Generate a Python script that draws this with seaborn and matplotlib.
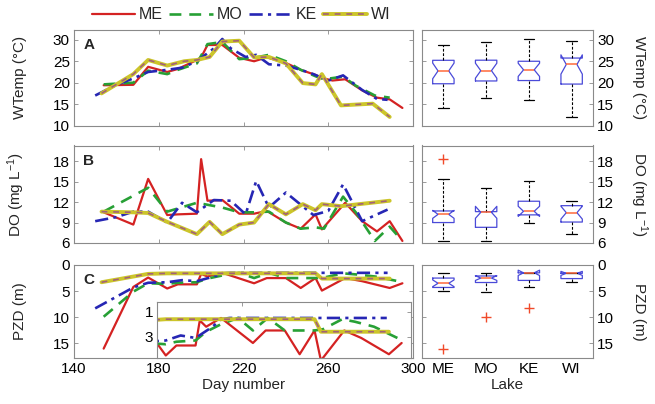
import matplotlib.pyplot as plt
from matplotlib.lines import Line2D
import numpy as np
import pandas as pd
import seaborn as sns

sns.set_theme(style="white")
plt.rcParams["font.family"] = ["Liberation Sans", "DejaVu Sans"]
plt.rcParams["mathtext.default"] = "regular"

nan = np.nan
lakes = ["ME", "MO", "KE", "WI"]

# sampling days and values
me_day = [154, 168, 175, 184, 189, 198, 200, 203, 210, 218, 225, 231, 240, 247, 254, 257, 262, 268, 276, 283, 289, 295]
me_wt = [19.4, 19.5, 23.7, 22.5, 23.2, 25.3, 25.9, 28.8, 28.8, 25.8, 25.0, 25.9, 24.6, 23.0, 21.8, 21.1, 20.5, 20.8, 18.2, 16.5, 16.1, 14.1]
me_do = [10.5, 8.7, 15.4, 10.1, 10.2, 10.3, 18.3, 12.2, 12.3, 10.3, 10.3, 10.7, 9.0, 8.1, 10.2, 8.0, nan, 11.9, 9.2, 7.7, 9.2, 6.3]
me_pzd = [16.0, 4.2, 2.4, 4.5, 3.7, 3.7, 1.7, 2.2, 1.5, nan, 3.5, 2.5, 2.5, 4.4, 2.5, 4.9, nan, 2.5, 3.1, nan, 4.4, 3.5]

mo_day = [154, 168, 175, 184, 189, 198, 203, 210, 218, 225, 232, 240, 247, 254, 258, 267, 273, 282, 289, 293]
mo_wt = [19.6, 20.0, 22.8, 22.0, 23.0, 24.5, 29.0, 29.5, 25.5, 25.8, 26.5, 25.0, 23.0, 21.5, 20.8, 21.4, 19.3, 17.0, 16.5, nan]
mo_do = [10.6, nan, 14.1, 10.6, nan, 11.9, nan, 11.2, 10.5, 10.5, 10.6, 9.0, 8.1, 8.3, 8.1, 12.8, 10.5, 6.3, 8.4, 7.0]
mo_pzd = [9.9, 5.1, 3.5, 3.6, 3.4, 3.3, 2.6, 2.0, 1.5, 2.5, 1.5, 2.5, 2.5, 2.5, 2.4, 1.6, 1.8, 2.2, nan, 3.1]

ke_day = [150, 160, 168, 175, 184, 191, 198, 206, 210, 214, 221, 226, 232, 240, 247, 253, 260, 267, 276, 283, 288]
ke_wt = [17.0, 19.5, 21.0, 22.5, 23.0, 23.5, 25.0, 28.0, 30.2, 28.0, 26.0, 26.5, 24.3, 24.0, 23.0, 22.0, 20.5, 21.7, 18.3, 16.2, 16.0]
ke_do = [9.2, 9.8, 10.6, 10.6, 9.0, 11.9, 10.5, 12.3, nan, 12.2, 10.2, 15.1, 11.2, 13.4, nan, 10.1, 10.7, 14.6, 9.2, nan, 10.9]
ke_pzd = [8.3, nan, 4.3, 3.4, 3.3, 2.9, 3.1, 2.2, 1.6, 1.5, 1.5, 1.5, 1.5, 1.5, 1.5, 1.5, 1.5, 1.5, 1.5, 1.5, 1.5]

wi_day = [153, 168, 175, 184, 192, 198, 204, 210, 218, 225, 232, 240, 248, 254, 257, 266, 281, 289]
wi_wt = [17.5, 22.0, 25.3, 24.0, 25.0, 25.3, 26.0, 29.6, 29.8, 25.9, 26.0, 24.5, 19.9, 19.6, 22.0, 14.7, 15.1, 12.0]
wi_do = [10.6, 10.5, 10.4, 9.1, nan, 7.3, 9.1, 7.3, 8.7, 9.0, 11.7, 10.2, 11.7, 10.8, 11.7, 11.4, nan, 12.2]
wi_pzd = [3.3, nan, 1.7, 1.6, 1.6, 1.6, 1.6, 1.6, 1.6, 1.6, 1.6, 1.6, 1.6, 1.6, 2.6, 2.6, 2.6, 2.6]

frames = []
for lake, d, wt, do, pzd in [
    ("ME", me_day, me_wt, me_do, me_pzd),
    ("MO", mo_day, mo_wt, mo_do, mo_pzd),
    ("KE", ke_day, ke_wt, ke_do, ke_pzd),
    ("WI", wi_day, wi_wt, wi_do, wi_pzd),
]:
    frames.append(pd.DataFrame({"lake": lake, "day": d, "WT": wt, "DO": do, "PZD": pzd}))
df = pd.concat(frames, ignore_index=True)

styles = {
    "ME": dict(color="#d42222", linewidth=1.6, linestyle="-"),
    "MO": dict(color="#27a035", linewidth=1.9, linestyle=(0, (4.5, 3))),
    "KE": dict(color="#2626b4", linewidth=1.9, linestyle=(0, (5, 2, 1.2, 2))),
    "WI": dict(color="#ccc52a", linewidth=2.8, linestyle="-"),
}
wi_top = dict(color="#a2607a", linewidth=1.2, linestyle=(0, (3.5, 3.5)))
box_blue = "#4a4ad8"
med_col = "#ff6a3a"
out_col = "#f04a2a"
frame_col = "#8a8a8a"
fs = 11


def draw_lines(ax, var):
    for lake in lakes:
        d = df[df["lake"] == lake].dropna(subset=[var])
        sns.lineplot(x=d["day"].to_numpy(), y=d[var].to_numpy(), ax=ax, sort=False,
                     estimator=None, legend=False, **styles[lake])
        if lake == "WI":
            sns.lineplot(x=d["day"].to_numpy(), y=d[var].to_numpy(), ax=ax, sort=False,
                         estimator=None, legend=False, **wi_top)


def draw_box(ax, var):
    sns.boxplot(data=df, x="lake", y=var, order=lakes, ax=ax, width=0.5, notch=True,
                fill=False, whis=3.0,
                boxprops=dict(color=box_blue, linewidth=0.9),
                medianprops=dict(color=med_col, linewidth=1.1),
                whiskerprops=dict(color="black", linewidth=0.8, linestyle=(0, (2.5, 1.5))),
                capprops=dict(color="black", linewidth=0.9),
                flierprops=dict(marker="+", markeredgecolor=out_col, markerfacecolor=out_col,
                                markersize=7, markeredgewidth=1.0))


def style_axes(ax):
    for s in ax.spines.values():
        s.set_color(frame_col)
        s.set_linewidth(0.8)
    ax.tick_params(direction="in", length=3, width=0.6, color=frame_col,
                   labelsize=fs, labelcolor="black", pad=3)


fig = plt.figure(figsize=(6.55, 4.04), dpi=100)
W, H = 655, 404


def box(x0, y0, x1, y1):
    return [x0 / W, 1 - y1 / H, (x1 - x0) / W, (y1 - y0) / H]


rows = [(30, 125.5), (145.5, 243), (265, 358)]
left_x = (74, 413)
right_x = (422, 593)

variables = ["WT", "DO", "PZD"]
ylims = [(10, 32.3), (6, 20.3), (17.8, 0)]
yticks = [[10, 15, 20, 25, 30], [6, 9, 12, 15, 18], [0, 5, 10, 15]]
ylabels = ["WTemp (\u00b0C)", "DO (mg L$^{-1}$)", "PZD (m)"]
panel_tags = ["A", "B", "C"]

for i, var in enumerate(variables):
    y0, y1 = rows[i]
    ax = fig.add_axes(box(left_x[0], y0, left_x[1], y1))
    draw_lines(ax, var)
    ax.set_xlim(140, 300)
    ax.set_ylim(*ylims[i])
    ax.set_yticks(yticks[i])
    ax.set_xticks([140, 180, 220, 260, 300])
    style_axes(ax)
    ax.tick_params(top=True, right=True, left=True, bottom=True)
    ax.set_ylabel(ylabels[i], fontsize=fs)
    ax.yaxis.set_label_coords(-0.138, 0.5)
    ax.set_xlabel("")
    if i < 2:
        ax.tick_params(labelbottom=False)
    else:
        ax.set_xlabel("Day number", fontsize=fs, labelpad=1)
    ax.text(0.027, 0.84, panel_tags[i], transform=ax.transAxes, fontsize=fs,
            fontweight="bold", va="center", ha="left")

    axr = fig.add_axes(box(right_x[0], y0, right_x[1], y1))
    draw_box(axr, var)
    axr.set_ylim(*ylims[i])
    axr.set_yticks(yticks[i])
    style_axes(axr)
    axr.tick_params(axis="y", left=True, right=True, labelleft=False, labelright=True)
    axr.tick_params(axis="x", length=0)
    axr.yaxis.set_label_position("right")
    axr.set_ylabel(ylabels[i], fontsize=fs, rotation=270, va="center")
    axr.yaxis.set_label_coords(1.27, 0.5)
    if i < 2:
        axr.tick_params(labelbottom=False)
        axr.set_xlabel("")
    else:
        axr.set_xlabel("Lake", fontsize=fs, labelpad=1)

# inset of panel C
axi = fig.add_axes(box(157.3, 301.7, 411, 358))
axi.set_facecolor("white")
draw_lines(axi, "PZD")
axi.set_xlim(180, 299.4)
axi.set_ylim(4.7, 0.2)
axi.set_yticks([1, 3])
axi.set_xticks([180, 220, 260])
style_axes(axi)
axi.tick_params(top=True, right=True, labelbottom=False)
axi.set_xlabel("")
axi.set_ylabel("")

# legend above the left panels
handles = []
for lake in lakes:
    st = styles[lake]
    h = Line2D([], [], color=st["color"], linewidth=st["linewidth"], linestyle=st["linestyle"])
    if lake == "WI":
        h = (h, Line2D([], [], **wi_top))
    handles.append(h)
fig.legend(handles, lakes, loc="center", bbox_to_anchor=(0.368, 0.963), ncol=4,
           frameon=False, fontsize=fs + 0.5, handlelength=2.7, handletextpad=0.25,
           columnspacing=0.4)

fig.savefig("out.png", dpi=100)
